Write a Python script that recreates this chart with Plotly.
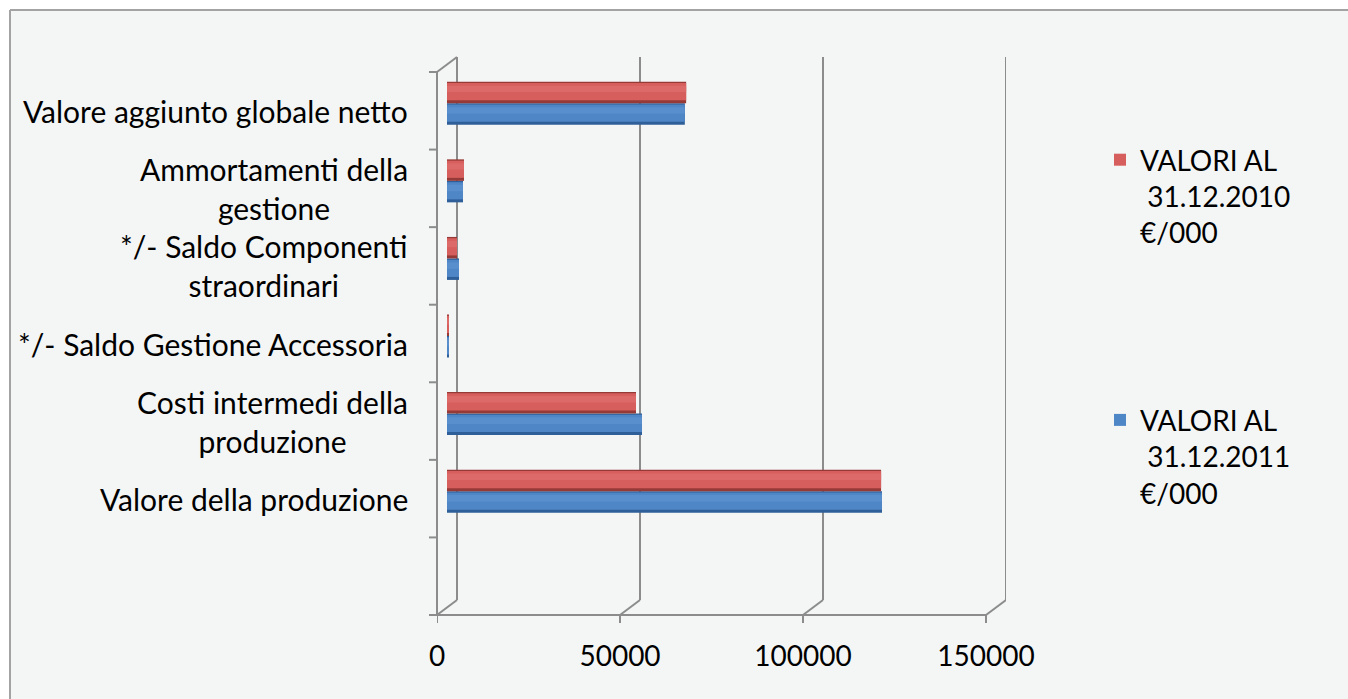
import plotly.graph_objects as go

# ---------------- data ----------------
categories = [
    " ",
    "Valore della produzione",
    "Costi intermedi della produzione",
    "*/- Saldo Gestione Accessoria",
    "*/- Saldo Componenti straordinari",
    "Ammortamenti della gestione",
    "Valore aggiunto globale netto",
]
category_labels = [
    "",
    "Valore della produzione",
    "Costi intermedi della<br>produzione",
    "*/- Saldo Gestione Accessoria",
    "*/- Saldo Componenti<br>straordinari",
    "Ammortamenti della<br>gestione",
    "Valore aggiunto globale netto",
]
values_2010 = [None, 118600, 51640, 300, 2730, 4650, 65340]
values_2011 = [None, 118850, 53280, 500, 3280, 4370, 64980]
name_2010 = "VALORI AL<br> 31.12.2010<br>€/000"
name_2011 = "VALORI AL<br> 31.12.2011<br>€/000"
x_ticks = [0, 50000, 100000, 150000]

# ---------------- geometry / style ----------------
W, H = 1348, 699
PLOT_L, PLOT_R, PLOT_T, PLOT_B = 437, 1006, 57, 615
DX, DY = 10, 7.5           # half depth of the pseudo-3D box
PW, PH = PLOT_R - PLOT_L, PLOT_B - PLOT_T
ppu = (PLOT_R - DX - (PLOT_L + DX)) / 150000.0   # pixels per unit (mid depth)
x_min = -DX / ppu
x_max = (PW - DX) / ppu
n_cat = len(categories)
slot = (PH - 2 * DY) / n_cat
y_lo = -0.5 - DY / slot
y_hi = n_cat - 0.5 + DY / slot
BAR_W = 21.5 / slot        # bar thickness in category units

GRID = "#8c8c8c"
FONT = "Lato"


def pyp(py):  # figure pixel y -> paper y
    return (PLOT_B - py) / PH


def pxp(px):  # figure pixel x -> paper x
    return (px - PLOT_L) / PW


dxu = DX / ppu
depth_y = 2 * DY / PH

fig = go.Figure()


def add_cylinder(values, name, offset, colors, rank, group):
    """Bar drawn as three stacked layers to suggest a cylinder."""
    dark, main, light = colors
    fig.add_trace(go.Bar(
        y=categories, x=values, orientation="h", name=name,
        width=BAR_W, offset=offset, legendgroup=group,
        marker=dict(color=dark, line=dict(width=0)),
        legendrank=rank, showlegend=False, hoverinfo="skip",
    ))
    fig.add_trace(go.Bar(
        y=categories, x=values, orientation="h", name=name,
        width=BAR_W * 0.80, offset=offset + BAR_W * 0.14, legendgroup=group,
        marker=dict(color=main, line=dict(width=0)),
        legendrank=rank, showlegend=True,
    ))
    fig.add_trace(go.Bar(
        y=categories, x=values, orientation="h", name=name,
        width=BAR_W * 0.30, offset=offset + BAR_W * 0.52, legendgroup=group,
        marker=dict(color=light, line=dict(width=0)),
        legendrank=rank, showlegend=False, hoverinfo="skip",
    ))


add_cylinder(values_2011, name_2011, -BAR_W, ("#2f5f98", "#4f86c6", "#5a8fcd"), 2, "y2011")
add_cylinder(values_2010, name_2010, 0.0, ("#963a38", "#d65f5d", "#dc6a68"), 1, "y2010")

shapes = []
# outer background + border (left and top)
shapes.append(dict(type="rect", xref="paper", yref="paper",
                   x0=pxp(10), x1=pxp(W + 20), y0=pyp(H + 20), y1=pyp(10),
                   fillcolor="#f4f6f6", line=dict(width=0), layer="below"))
shapes.append(dict(type="line", xref="paper", yref="paper",
                   x0=pxp(10), x1=pxp(10), y0=pyp(H + 20), y1=pyp(10),
                   line=dict(color="#a3a3a3", width=2)))
shapes.append(dict(type="line", xref="paper", yref="paper",
                   x0=pxp(10), x1=pxp(W + 20), y0=pyp(10), y1=pyp(10),
                   line=dict(color="#a3a3a3", width=2)))

# back wall gridlines + floor diagonals + front ticks
for v in x_ticks:
    shapes.append(dict(type="line", xref="x", yref="paper", layer="below",
                       x0=v + dxu, x1=v + dxu, y0=depth_y, y1=1,
                       line=dict(color=GRID, width=2)))
    shapes.append(dict(type="line", xref="x", yref="paper", layer="below",
                       x0=v - dxu, x1=v + dxu, y0=0, y1=depth_y,
                       line=dict(color=GRID, width=2)))
    shapes.append(dict(type="line", xref="x", yref="paper", layer="below",
                       x0=v - dxu, x1=v - dxu, y0=0, y1=-8 / PH,
                       line=dict(color=GRID, width=2)))
# front floor line
shapes.append(dict(type="line", xref="x", yref="paper", layer="below",
                   x0=x_ticks[0] - dxu, x1=x_ticks[-1] - dxu, y0=0, y1=0,
                   line=dict(color=GRID, width=2)))
# front left axis line and slant to back wall
front_top = n_cat * slot / PH
shapes.append(dict(type="line", xref="paper", yref="paper", layer="below",
                   x0=0, x1=0, y0=0, y1=front_top,
                   line=dict(color=GRID, width=2)))
shapes.append(dict(type="line", xref="paper", yref="paper", layer="below",
                   x0=0, x1=2 * DX / PW, y0=front_top, y1=1,
                   line=dict(color=GRID, width=2)))
# category boundary ticks on the front axis
for k in range(n_cat + 1):
    yy = k * slot / PH
    shapes.append(dict(type="line", xref="paper", yref="paper", layer="below",
                       x0=-8 / PW, x1=0, y0=yy, y1=yy,
                       line=dict(color=GRID, width=2)))

annotations = []
for cat, lab in zip(categories, category_labels):
    if not lab:
        continue
    annotations.append(dict(
        xref="paper", yref="y", x=0, y=cat, xanchor="right", yanchor="middle",
        xshift=-27, yshift=-DY, text=lab, showarrow=False, align="center",
        font=dict(family=FONT, size=30, color="#000000"),
    ))

fig.update_layout(
    width=W, height=H,
    margin=dict(l=PLOT_L, r=W - PLOT_R, t=PLOT_T, b=H - PLOT_B, pad=0),
    paper_bgcolor="#ffffff",
    plot_bgcolor="#f4f6f6",
    barmode="overlay",
    font=dict(family=FONT, size=28, color="#000000"),
    xaxis=dict(range=[x_min, x_max], tickvals=x_ticks,
               ticktext=[str(v) for v in x_ticks],
               showgrid=False, zeroline=False, showline=False,
               ticks="", ticklabelshift=-DX, ticklabelstandoff=22,
               tickfont=dict(family=FONT, size=28, color="#000000")),
    yaxis=dict(range=[y_lo, y_hi], type="category",
               categoryorder="array", categoryarray=categories,
               showgrid=False, zeroline=False, showline=False,
               ticks="", showticklabels=False),
    legend=dict(x=pxp(1100), y=pyp(135), xanchor="left", yanchor="top",
                traceorder="grouped", tracegroupgap=148, valign="top",
                bgcolor="rgba(0,0,0,0)",
                font=dict(family=FONT, size=28, color="#000000")),
    shapes=shapes,
    annotations=annotations,
)

fig.write_html("out.html")
